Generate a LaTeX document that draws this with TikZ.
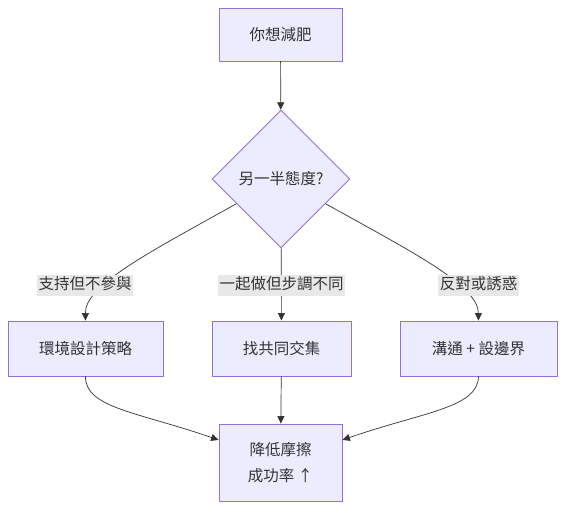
\documentclass[tikz,border=0pt]{standalone}
\usepackage{fontspec}
\setmainfont{Noto Sans CJK TC}
\usetikzlibrary{arrows.meta,shapes.geometric}
\definecolor{mmfill}{HTML}{ECECFF}
\definecolor{mmline}{HTML}{9370DB}
\definecolor{mmink}{HTML}{333333}
\definecolor{mmlabel}{HTML}{E8E8E8}

\begin{document}
\begin{tikzpicture}[x=1pt, y=-1pt, font=\fontsize{15.5}{26}\selectfont, text=mmink,
  box/.style={draw=mmline, fill=mmfill, line width=0.9pt, inner sep=0pt, align=center},
  choice/.style={diamond, draw=mmline, fill=mmfill, line width=0.9pt, inner sep=0pt, minimum width=138pt, minimum height=138pt},
  edge/.style={-{Triangle[length=7.5pt, width=7pt]}, draw=mmink, line width=0.7pt},
  tag/.style={fill=mmlabel, inner xsep=1.5pt, inner ysep=3pt, text height=12pt, text depth=3.5pt}]
  \useasboundingbox (0,0) rectangle (571,516);
  \node[box, minimum width=123pt, minimum height=53pt] (start) at (280.5,34.5) {你想減肥};
  \node[choice] (ask) at (281,179) {另一半態度?};
  \node[box, minimum width=155pt, minimum height=55pt] (env) at (85.5,348.5) {環境設計策略};
  \node[box, minimum width=139pt, minimum height=55pt] (common) at (281.5,348.5) {找共同交集};
  \node[box, minimum width=157pt, minimum height=55pt] (talk) at (478.5,348.5) {溝通 + 設邊界};
  \node[box, minimum width=123pt, minimum height=77pt] (goal) at (280.5,462.5) {降低摩擦\\成功率 ↑};
  % edges
  \draw[edge] (start) -- (ask);
  \draw[edge] (ask.209) .. controls (150,252) and (85,285) .. (env.north);
  \draw[edge] (ask) -- (common);
  \draw[edge] (ask.331) .. controls (412,252) and (478,285) .. (talk.north);
  \draw[edge] (env.south) .. controls (85,408) and (138,412) .. (goal.160);
  \draw[edge] (common) -- (goal);
  \draw[edge] (talk.south) .. controls (478,408) and (423,412) .. (goal.20);
  % edge labels
  \node[tag] (l1) at (85,285.5) {支持但不參與};
  \node[tag] (l2) at (281.5,285.5) {一起做但步調不同};
  \node[tag] (l3) at (478.5,285.5) {反對或誘惑};
\end{tikzpicture}
\end{document}
